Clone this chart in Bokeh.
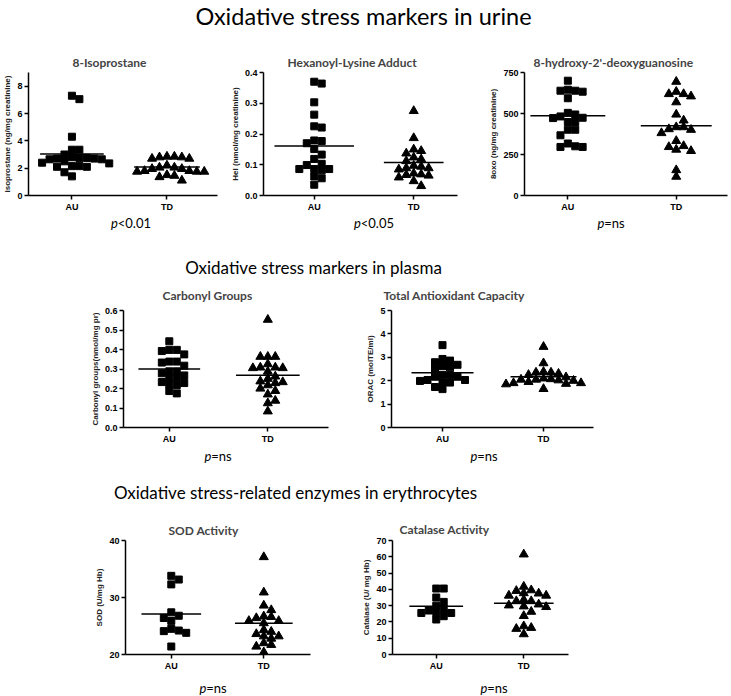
from bokeh.plotting import figure
from bokeh.models import Range1d, FixedTicker, Spacer, PrintfTickFormatter
from bokeh.core.properties import value
from bokeh.layouts import row, column
from bokeh.embed import file_html
from bokeh.resources import INLINE

# ---------------- data ----------------
groups = ["AU", "TD"]

iso_au = [7.3, 7.05, 4.3, 3.35, 3.35, 3.0, 2.8, 2.75, 2.7, 2.65, 2.65, 2.7, 2.75,
          2.5, 2.4, 2.35, 2.15, 2.1, 2.1, 2.15, 1.7, 1.4]
iso_td = [2.85, 2.8, 2.7, 2.7, 2.8, 2.85, 2.2, 2.05, 1.95, 1.8, 1.75, 1.75, 1.8,
          1.75, 1.95, 2.05, 1.45, 1.5, 1.35, 1.1]
iso_mean = [3.04, 2.08]

hel_au = [0.370, 0.364, 0.303, 0.263, 0.221, 0.225, 0.179, 0.177, 0.170, 0.151,
          0.133, 0.119, 0.103, 0.099, 0.086, 0.082, 0.086, 0.086, 0.062, 0.056, 0.035]
hel_td = [0.275, 0.187, 0.150, 0.145, 0.137, 0.118, 0.112, 0.124, 0.097, 0.089,
          0.085, 0.089, 0.094, 0.069, 0.065, 0.059, 0.067, 0.072, 0.047, 0.031]
hel_mean = [0.161, 0.107]

oxo_au = [700, 645, 639, 633, 639, 593, 504, 482, 472, 494, 474, 448, 448, 401,
          401, 367, 296, 296, 300, 317]
oxo_td = [694, 633, 619, 619, 605, 569, 494, 458, 417, 401, 381, 405, 417, 333,
          302, 280, 272, 296, 155, 115]
oxo_mean = [487, 425]

carb_au = [0.442, 0.398, 0.392, 0.398, 0.375, 0.338, 0.333, 0.338, 0.317, 0.288,
           0.278, 0.288, 0.267, 0.255, 0.255, 0.233, 0.222, 0.217, 0.228, 0.175, 0.187]
carb_td = [0.553, 0.363, 0.363, 0.363, 0.325, 0.305, 0.308, 0.308, 0.305, 0.287,
           0.25, 0.262, 0.233, 0.228, 0.237, 0.2, 0.217, 0.188, 0.17, 0.138, 0.125, 0.083]
carb_mean = [0.30, 0.268]

orac_au = [3.52, 2.93, 2.79, 2.86, 2.62, 2.57, 2.68, 2.49, 2.17, 2.24, 2.24, 2.03,
           1.99, 2.03, 2.17, 1.92, 1.92, 1.73, 1.64]
orac_td = [3.45, 2.75, 2.38, 2.35, 2.35, 2.25, 2.3, 2.05, 2.05, 2.02, 2.1, 2.15,
           1.9, 1.95, 1.9, 2.0, 2.07, 1.87, 1.65, 1.85]
orac_mean = [2.34, 2.17]

sod_au = [33.8, 33.15, 32.3, 27.4, 26.8, 26.4, 25.9, 24.5, 24.1, 23.8, 24.2, 21.4]
sod_td = [37.1, 30.9, 28.6, 27.8, 26.7, 26.4, 26.6, 25.9, 25.5, 25.9, 24.3, 24.0,
          23.6, 23.2, 23.2, 22.8, 22.0, 21.7, 21.4, 20.4]
sod_mean = [27.1, 25.5]

cat_au = [40.5, 40.5, 35.0, 32.3, 30.0, 28.0, 27.0, 26.0, 25.5, 25.5, 23.5, 21.5]
cat_td = [61.5, 41.7, 39.5, 39.1, 37.7, 37.5, 36.2, 36.2, 33.6, 32.8, 30.8, 32.8,
          29.6, 29.2, 30.2, 26.3, 23.7, 16.4, 17.4, 15.8, 12.5]
cat_mean = [29.6, 31.5]

headings = ["Oxidative stress markers in urine",
            "Oxidative stress markers in plasma",
            "Oxidative stress-related enzymes in erythrocytes"]

titles = ["8-Isoprostane", "Hexanoyl-Lysine Adduct", "8-hydroxy-2'-deoxyguanosine",
          "Carbonyl Groups", "Total Antioxidant Capacity", "SOD Activity", "Catalase Activity"]
ylabels = ["isoprostane (ng/mg creatinine)", "HeI (nmol/mg creatinine)", "8oxo (ng/mg creatinine)",
           "Carbonyl groups(nmol/mg pr)", "ORAC (molTE/ml)", "SOD (U/mg Hb)", "Catalase (U/ mg Hb)"]
yranges = [(0, 9), (0, 0.4), (0, 750), (0, 0.6), (0, 5), (20, 40), (0, 70)]
yticks = [[0, 2, 4, 6, 8], [0, 0.1, 0.2, 0.3, 0.4], [0, 250, 500, 750],
          [0, 0.1, 0.2, 0.3, 0.4, 0.5, 0.6], [0, 1, 2, 3, 4, 5], [20, 30, 40],
          [0, 10, 20, 30, 40, 50, 60, 70]]
yfmt = ["%d", "%.1f", "%d", "%.1f", "%d", "%d", "%d"]
pvalues = ["<0.01", "<0.05", "=ns", "=ns", "=ns", "=ns", "=ns"]
series = [(iso_au, iso_td, iso_mean), (hel_au, hel_td, hel_mean), (oxo_au, oxo_td, oxo_mean),
          (carb_au, carb_td, carb_mean), (orac_au, orac_td, orac_mean),
          (sod_au, sod_td, sod_mean), (cat_au, cat_td, cat_mean)]

# ---------------- layout constants (page pixels, origin at top-left) ----------------
# width, height, border l, r, t, b, x start, x end, title offset, title standoff,
# mean line half widths (px)
geom = [
    (227, 174, 27, 10, 32, 18, 0.543, 2.532, 44, 6, (32, 33)),
    (259, 174, 35, 29, 32, 18, 0.49, 2.44, 24, 6, (40, 30)),
    (244, 174, 35, 3, 32, 18, 0.6, 2.473, 9, 6, (38, 36)),
    (272, 168, 35, 31, 31, 18, 0.535, 2.616, 39, 15, (31, 32)),
    (244, 168, 32, 10, 30, 18, 0.495, 2.495, -8, 15, (31, 33)),
    (267, 158, 32, 49, 21, 18, 0.505, 2.505, 43, 6, (30, 29)),
    (219, 158, 32, 10, 23, 18, 0.5, 2.511, 7, 8, (27, 30)),
]
spacers = [87, 92]
# bands of text between the rows of panels
bands = [(0, 40), (214, 278), (446, 515), (673, 696)]
heading_pos = [(1, 363, 15, 23.5), (2, 313, 267, 17), (3, 295, 492, 17)]  # band, x, y, size
pval_pos = [(2, 130, 222), (2, 373, 222), (2, 610, 222), (3, 217, 455), (3, 483, 455),
            (4, 212, 687), (4, 493, 687)]

FONT = "Liberation Sans"
TFONT = "Lato"


def swarm(vals, y0, y1, frame_h, ppx, step=7.5, size=6.5):
    ppy = frame_h / (y1 - y0)
    order = sorted(range(len(vals)), key=lambda i: -vals[i])
    placed = []
    offs = [0.0] * len(vals)
    cands = [0] + [s * j for j in range(1, 30) for s in (1, -1)]
    for i in order:
        py = (vals[i] - y0) * ppy
        dx = 0.0
        for c in cands:
            dx = c * step
            if all(not (abs(dx - qx) < step * 0.9 and abs(py - qy) < size) for qx, qy in placed):
                break
        placed.append((dx, py))
        offs[i] = dx / ppx
    return offs


def panel(k):
    (w, h, bl, br, bt, bb, xs, xe, toff, tstand, halves) = geom[k]
    y0, y1 = yranges[k]
    au, td, means = series[k]
    fw, fh = w - bl - br, h - bt - bb
    ppx = fw / (xe - xs)
    p = figure(width=w, height=h, min_border_left=bl, min_border_right=br,
               min_border_top=bt, min_border_bottom=bb,
               x_range=Range1d(xs, xe), y_range=Range1d(y0, y1),
               output_backend="svg", toolbar_location=None, tools="")
    p.outline_line_color = None
    p.xgrid.visible = False
    p.ygrid.visible = False
    p.title.text = titles[k]
    p.title.text_font = TFONT
    p.title.text_font_style = "bold"
    p.title.text_font_size = "12px"
    p.title.align = "left"
    p.title.offset = toff
    p.title.standoff = tstand

    for ax in (p.xaxis[0], p.yaxis[0]):
        ax.axis_line_width = 1.5
        ax.axis_line_color = "black"
        ax.major_tick_line_width = 1.5
        ax.major_tick_line_color = "black"
        ax.major_tick_out = 4
        ax.major_tick_in = 0
        ax.minor_tick_out = 0
        ax.minor_tick_in = 0
        ax.major_label_text_font = FONT
        ax.major_label_text_font_size = "9px"
        ax.major_label_text_font_style = "bold"
        ax.major_label_text_color = "black"
        ax.major_label_standoff = 2
    p.xaxis.ticker = FixedTicker(ticks=[1, 2])
    p.xaxis.major_label_overrides = {1: groups[0], 2: groups[1]}
    p.yaxis.ticker = FixedTicker(ticks=yticks[k])
    p.yaxis.formatter = PrintfTickFormatter(format=yfmt[k])
    p.yaxis.axis_label = ylabels[k]
    p.yaxis.axis_label_text_font = FONT
    p.yaxis.axis_label_text_font_size = "8px"
    p.yaxis.axis_label_text_font_style = "bold"
    p.yaxis.axis_label_text_color = "#222222"
    p.yaxis.axis_label_standoff = 2

    xa = [1 + o for o in swarm(au, y0, y1, fh, ppx)]
    xt = [2 + o for o in swarm(td, y0, y1, fh, ppx)]
    p.scatter(x=xa, y=au, marker="square", size=7, color="black")
    p.scatter(x=xt, y=td, marker="triangle", size=9, color="black")
    hw = [halves[0] / ppx, halves[1] / ppx]
    p.segment(x0=[1 - hw[0], 2 - hw[1]], x1=[1 + hw[0], 2 + hw[1]],
              y0=means, y1=means, line_color="black", line_width=1.5)
    return p


def band(i):
    top, bot = bands[i - 1]
    b = figure(width=731, height=bot - top, x_range=Range1d(0, 731), y_range=Range1d(bot, top),
               min_border=0, x_axis_location=None, y_axis_location=None,
               output_backend="svg", toolbar_location=None, tools="")
    b.grid.visible = False
    b.outline_line_color = None
    for j, (bi, x, y, size) in enumerate(heading_pos):
        if bi == i:
            b.text(x=[x], y=[y], text=[headings[j]],
                   text_font=value(TFONT), text_font_size=f"{size}px",
                   text_align="center", text_baseline="middle", text_color="black")
    xs_p, ys, rest = [], [], []
    for k, (bi, x, y) in enumerate(pval_pos):
        if bi == i:
            r = pvalues[k]
            xs_p.append(x - (len(r) * 6.5 - 7) / 2)
            ys.append(y)
            rest.append(r)
    if xs_p:
        b.text(x=xs_p, y=ys, text=["p"] * len(xs_p), text_font=value(TFONT),
               text_font_style="italic", text_font_size="13px",
               text_align="right", text_baseline="middle", text_color="black")
        b.text(x=xs_p, y=ys, text=rest, text_font=value(TFONT), text_font_size="13px",
               text_align="left", text_baseline="middle", text_color="black")
    return b


panels = [panel(k) for k in range(7)]

layout = column(
    band(1),
    row(panels[0], panels[1], panels[2], spacing=0),
    band(2),
    row(Spacer(width=spacers[0], height=168), panels[3], panels[4], spacing=0),
    band(3),
    row(Spacer(width=spacers[1], height=158), panels[5], panels[6], spacing=0),
    band(4),
    spacing=0,
)

open("out.html", "w").write(file_html(layout, INLINE))
